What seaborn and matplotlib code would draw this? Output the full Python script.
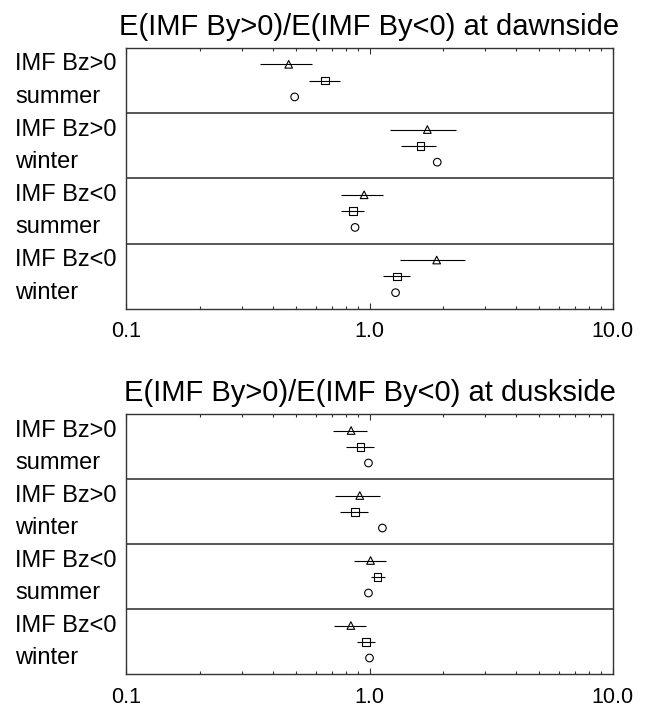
import numpy as np
import pandas as pd
import seaborn as sns
from matplotlib import pyplot as plt
from matplotlib.ticker import LogLocator, NullFormatter
from matplotlib.transforms import blended_transform_factory

sns.set_style("ticks")
plt.rcParams['font.family'] = ['Liberation Sans', 'DejaVu Sans']
plt.rcParams['text.color'] = 'black'
plt.rcParams['xtick.labelcolor'] = 'black'

# row labels (two lines per group)
group_top = ["IMF Bz>0", "IMF Bz>0", "IMF Bz<0", "IMF Bz<0"]
group_bottom = ["summer", "winter", "summer", "winter"]
series = ["triangle", "square", "circle"]

# dawnside ratios
dawn_tri = [0.465, 1.73, 0.95, 1.89]
dawn_tri_lo = [0.353, 1.21, 0.766, 1.33]
dawn_tri_hi = [0.58, 2.26, 1.14, 2.46]
dawn_sq = [0.655, 1.62, 0.853, 1.30]
dawn_sq_lo = [0.561, 1.35, 0.766, 1.14]
dawn_sq_hi = [0.755, 1.88, 0.947, 1.47]
dawn_circ = [0.492, 1.90, 0.872, 1.28]

# duskside ratios
dusk_tri = [0.84, 0.912, 1.01, 0.838]
dusk_tri_lo = [0.707, 0.724, 0.861, 0.711]
dusk_tri_hi = [0.974, 1.10, 1.165, 0.964]
dusk_sq = [0.917, 0.870, 1.08, 0.968]
dusk_sq_lo = [0.803, 0.755, 1.015, 0.889]
dusk_sq_hi = [1.04, 0.986, 1.16, 1.05]
dusk_circ = [0.99, 1.13, 0.99, 1.00]

panels = [
    ("E(IMF By>0)/E(IMF By<0) at dawnside",
     [(dawn_tri, dawn_tri_lo, dawn_tri_hi), (dawn_sq, dawn_sq_lo, dawn_sq_hi), (dawn_circ, None, None)]),
    ("E(IMF By>0)/E(IMF By<0) at duskside",
     [(dusk_tri, dusk_tri_lo, dusk_tri_hi), (dusk_sq, dusk_sq_lo, dusk_sq_hi), (dusk_circ, None, None)]),
]


def make_df(rows):
    recs = []
    for k, (vals, lo, hi) in enumerate(rows):
        for g in range(len(vals)):
            recs.append({
                "series": series[k],
                "group": g,
                "y": g + 0.25 * (k + 1),
                "value": vals[g],
                "lo": lo[g] if lo is not None else np.nan,
                "hi": hi[g] if hi is not None else np.nan,
            })
    return pd.DataFrame(recs)


fig = plt.figure(figsize=(6.51, 7.09), dpi=100)
boxes = [[0.1943, 0.5642, 0.7466, 0.3681], [0.1943, 0.0490, 0.7466, 0.3667]]

for box, (title, rows) in zip(boxes, panels):
    ax = fig.add_axes(box)
    df = make_df(rows)

    eb = df.dropna(subset=["lo"])
    ax.hlines(eb["y"], eb["lo"], eb["hi"], color="black", lw=0.8, zorder=2)
    sns.scatterplot(data=df, x="value", y="y", style="series",
                    markers={"triangle": "^", "square": "s", "circle": "o"},
                    s=30, facecolor="none", edgecolor="black", linewidth=0.8,
                    legend=False, ax=ax, zorder=3)

    for g in range(1, len(group_top)):
        ax.axhline(g, color="#3a3a3a", lw=1.2, zorder=1)

    ax.set_xscale("log")
    ax.set_xlim(0.1, 10)
    ax.set_ylim(4, 0)
    ax.set_xticks([0.1, 1, 10], labels=["0.1", "1.0", "10.0"])
    ax.xaxis.set_minor_locator(LogLocator(base=10, subs=np.arange(2, 10)))
    ax.xaxis.set_minor_formatter(NullFormatter())
    ax.tick_params(axis="x", which="both", direction="in", top=True, bottom=True,
                   labelsize=15.5, pad=9, color="#333333", width=0.8,
                   labelcolor="black")
    ax.tick_params(axis="x", which="major", length=4)
    ax.tick_params(axis="x", which="minor", length=2.4)
    ax.tick_params(axis="y", left=False, labelleft=False)
    ax.set_xlabel("")
    ax.set_ylabel("")
    for sp in ax.spines.values():
        sp.set_color("#333333")
        sp.set_linewidth(1.0)

    ax.set_title(title, fontsize=21, pad=9.4, color="black")

    tr = blended_transform_factory(fig.transFigure, ax.transData)
    for g in range(len(group_top)):
        ax.text(15 / 651, g + 0.25, group_top[g], transform=tr, fontsize=17,
                ha="left", va="center", color="black")
        ax.text(15 / 651, g + 0.75, group_bottom[g], transform=tr, fontsize=17,
                ha="left", va="center", color="black")

fig.savefig("out.png", dpi=100)
